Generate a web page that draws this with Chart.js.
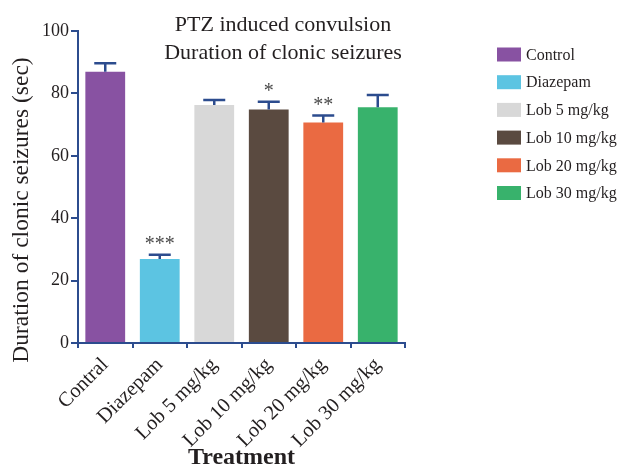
<!DOCTYPE html>
<html>
<head>
<meta charset="utf-8">
<script src="https://cdn.jsdelivr.net/npm/chart.js@4"></script>
<style>
  html, body { margin: 0; padding: 0; background: #fff; }
  #wrap { width: 622px; height: 467px; }
</style>
</head>
<body>
<div id="wrap"><canvas id="chart" width="622" height="467"></canvas></div>
<script>
/* ---- data ---- */
const categories = ['Contral', 'Diazepam', 'Lob 5 mg/kg', 'Lob 10 mg/kg', 'Lob 20 mg/kg', 'Lob 30 mg/kg'];
const legendLabels = ['Control', 'Diazepam', 'Lob 5 mg/kg', 'Lob 10 mg/kg', 'Lob 20 mg/kg', 'Lob 30 mg/kg'];
const means = [86.9, 26.9, 76.3, 74.8, 70.7, 75.6];
const errors = [2.8, 1.4, 1.6, 2.5, 2.2, 3.9];
const stars = ['', '***', '', '*', '**', ''];
const yTicks = [0, 20, 40, 60, 80, 100];
const titleLines = ['PTZ induced convulsion', 'Duration of clonic seizures'];
const yTitle = 'Duration of clonic seizures (sec)';

const barColors = ['#8852a2', '#5cc4e2', '#d8d8d8', '#5a4a40', '#ea6a42', '#38b26c'];
const axisColor = '#2c4c8e';
const textColor = '#231f20';
const serif = '"Liberation Serif", "Times New Roman", serif';

/* ---- extras: error bars, stars, titles, legend ---- */
const extras = {
    id: 'extras',
    afterDatasetsDraw(chart) {
        const ctx = chart.ctx;
        const meta = chart.getDatasetMeta(0);
        const y = chart.scales.y;

        ctx.save();
        ctx.strokeStyle = axisColor;
        ctx.lineWidth = 2.5;
        meta.data.forEach((bar, i) => {
            const top = y.getPixelForValue(means[i] + errors[i]);
            ctx.beginPath();
            ctx.moveTo(bar.x, bar.y);
            ctx.lineTo(bar.x, top);
            ctx.moveTo(bar.x - 11, top);
            ctx.lineTo(bar.x + 11, top);
            ctx.stroke();

            if (stars[i]) {
                ctx.fillStyle = '#4a4a4a';
                ctx.font = '20px ' + serif;
                ctx.textAlign = 'center';
                ctx.textBaseline = 'alphabetic';
                ctx.fillText(stars[i], bar.x, top - 5);
            }
        });
        ctx.restore();
    },
    afterDraw(chart) {
        const ctx = chart.ctx;
        ctx.save();
        ctx.fillStyle = textColor;
        ctx.font = '22px ' + serif;
        ctx.textAlign = 'center';
        ctx.textBaseline = 'alphabetic';
        titleLines.forEach((t, i) => ctx.fillText(t, 283, 31 + i * 28));

        // rotated y title
        ctx.save();
        ctx.translate(28, 210);
        ctx.rotate(-Math.PI / 2);
        ctx.font = '23.5px ' + serif;
        ctx.fillText(yTitle, 0, 0);
        ctx.restore();

        // legend
        ctx.font = '16px ' + serif;
        ctx.textAlign = 'left';
        ctx.textBaseline = 'middle';
        legendLabels.forEach((l, i) => {
            const cy = 54.5 + i * 27.7;
            ctx.fillStyle = barColors[i];
            ctx.fillRect(497, cy - 7, 24, 14);
            ctx.fillStyle = textColor;
            ctx.fillText(l, 526, cy + 1);
        });
        ctx.restore();
    }
};

new Chart(document.getElementById('chart'), {
    type: 'bar',
    data: {
        labels: categories,
        datasets: [{
            data: means,
            backgroundColor: barColors,
            borderWidth: 0,
            barPercentage: 0.73,
            categoryPercentage: 1
        }]
    },
    options: {
        responsive: false,
        animation: false,
        layout: { padding: { top: 31, right: 217, left: 0, bottom: 0 } },
        plugins: {
            legend: { display: false },
            tooltip: { enabled: false }
        },
        scales: {
            x: {
                afterFit(scale) { scale.height = 124; },
                grid: { drawOnChartArea: false, drawTicks: true, tickLength: 5, color: axisColor, lineWidth: 2 },
                border: { display: true, color: axisColor, width: 2 },
                ticks: {
                    color: textColor,
                    font: { family: serif, size: 20.5 },
                    minRotation: 45,
                    maxRotation: 45,
                    padding: 5
                },
                title: {
                    display: true,
                    text: 'Treatment',
                    color: textColor,
                    font: { family: serif, size: 24, weight: 'bold' },
                    padding: { top: 0, bottom: -5 }
                }
            },
            y: {
                min: 0,
                max: 100,
                afterFit(scale) { scale.width = 78; },
                afterBuildTicks(scale) { scale.ticks = yTicks.map(v => ({ value: v })); },
                grid: { drawOnChartArea: false, drawTicks: true, tickLength: 7, color: axisColor, lineWidth: 2 },
                border: { display: true, color: axisColor, width: 2 },
                ticks: {
                    color: textColor,
                    font: { family: serif, size: 18 },
                    padding: 2
                }
            }
        }
    },
    plugins: [extras]
});
</script>
</body>
</html>
